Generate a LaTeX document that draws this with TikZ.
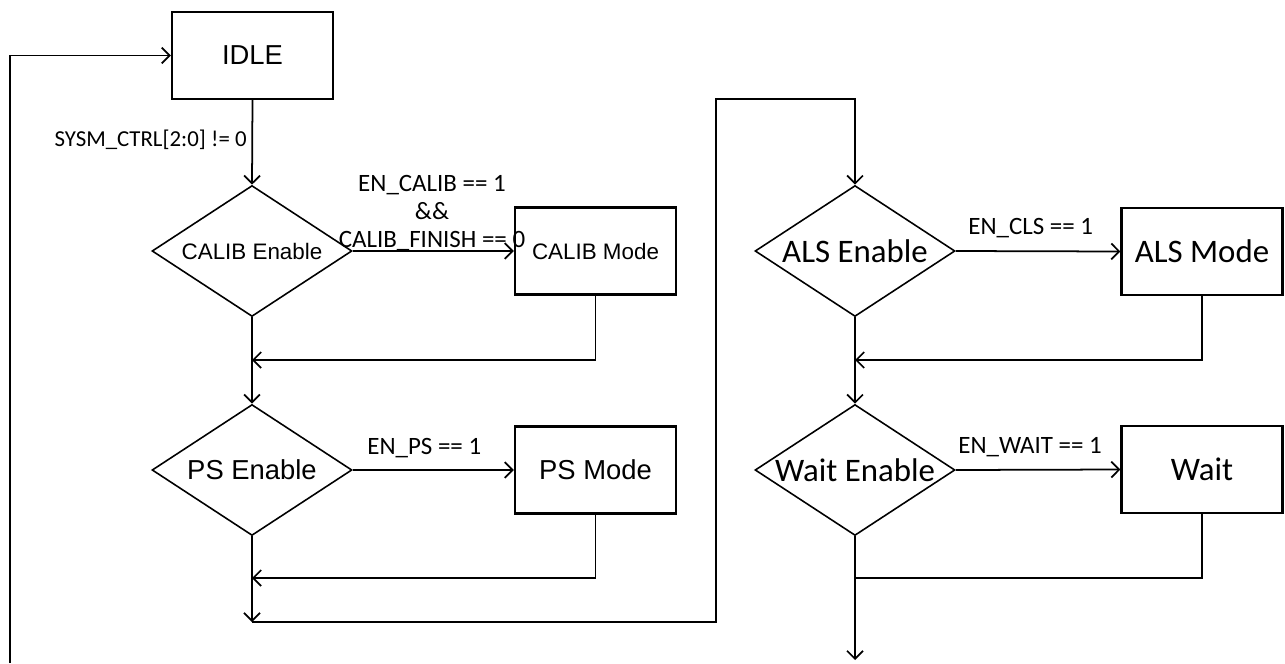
\documentclass[tikz,border=0pt]{standalone}
\usepackage{fontspec}
\setmainfont{Liberation Sans}
\newfontfamily\cali{Carlito}
\usetikzlibrary{shapes.geometric,arrows.meta}

\begin{document}
\begin{tikzpicture}[x=0.02cm,y=-0.02cm,
	state/.style={draw,line width=1.2pt,minimum width=3.22cm,minimum height=1.74cm,inner sep=0pt},
	decision/.style={draw,diamond,line width=0.9pt,aspect=1.53,minimum width=4cm,minimum height=2.62cm,inner sep=0pt},
	big/.style={font=\fontsize{15.6}{18}\selectfont},
	small/.style={font=\fontsize{12.75}{15}\selectfont},
	wide/.style={font=\cali\fontsize{18.7}{22}\selectfont},
	cond/.style={font=\cali\fontsize{14.2}{15.9}\selectfont,inner sep=0pt},
	flow/.style={line width=1pt,-{Straight Barb[length=4.5pt,width=9pt]}},
	wire/.style={line width=1pt}]
	\useasboundingbox (0,0) rectangle (1285,663);

	% left column
	\node[state,big] (idle) at (252.5,55.5) {IDLE};
	\node[decision,small] (calen) at (252,251) {CALIB Enable};
	\node[state,small] (calmode) at (595.5,251) {CALIB Mode};
	\node[decision,big] (psen) at (252,470) {PS Enable};
	\node[state,big] (psmode) at (595.5,470) {PS Mode};

	% right column
	\node[decision,wide] (alsen) at (855,251) {ALS Enable};
	\node[state,wide] (alsmode) at (1202,251.5) {ALS Mode};
	\node[decision,wide] (waiten) at (855,470) {Wait Enable};
	\node[state,wide] (wait) at (1202,469.5) {Wait};

	\coordinate (back) at (10,663);
	\coordinate (j1) at (252,360);
	\coordinate (j2) at (252,578);
	\coordinate (j3) at (252,622);
	\coordinate (up) at (716,99);
	\coordinate (j4) at (855,360);
	\coordinate (j5) at (855,578);
	\coordinate (out) at (855,660);

	% conditions
	\node[cond,font=\cali\fontsize{13}{15}\selectfont,anchor=east] (sysm) at (247,140) {SYSM\_CTRL[2:0] != 0};
	\node[cond,align=center] (calcond) at (432,213) {EN\_CALIB == 1\\\&\&\\CALIB\_FINISH == 0};
	\node[cond,anchor=west] (pscond) at (367,448) {EN\_PS == 1};
	\node[cond,anchor=west] (alscond) at (968,228) {EN\_CLS == 1};
	\node[cond,anchor=west] (waitcond) at (958,447) {EN\_WAIT == 1};

	% connectors
	\draw[flow] (back) |- (idle.west);
	\draw[flow] (idle.south) -- (calen.north);
	\draw[flow] (calen.east) -- (calmode.west);
	\draw[flow] (calmode.south) |- (j1);
	\draw[flow] (calen.south) -- (psen.north);
	\draw[flow] (psen.east) -- (psmode.west);
	\draw[flow] (psmode.south) |- (j2);
	\draw[flow] (psen.south) -- (j3);
	\draw[flow] (j3) -| (up) -| (alsen.north);
	\draw[flow] (alsen.east) -- (alsmode.west);
	\draw[flow] (alsmode.south) |- (j4);
	\draw[flow] (alsen.south) -- (waiten.north);
	\draw[flow] (waiten.east) -- (wait.west);
	\draw[wire] (wait.south) |- (j5);
	\draw[flow] (waiten.south) -- (out);
\end{tikzpicture}
\end{document}
